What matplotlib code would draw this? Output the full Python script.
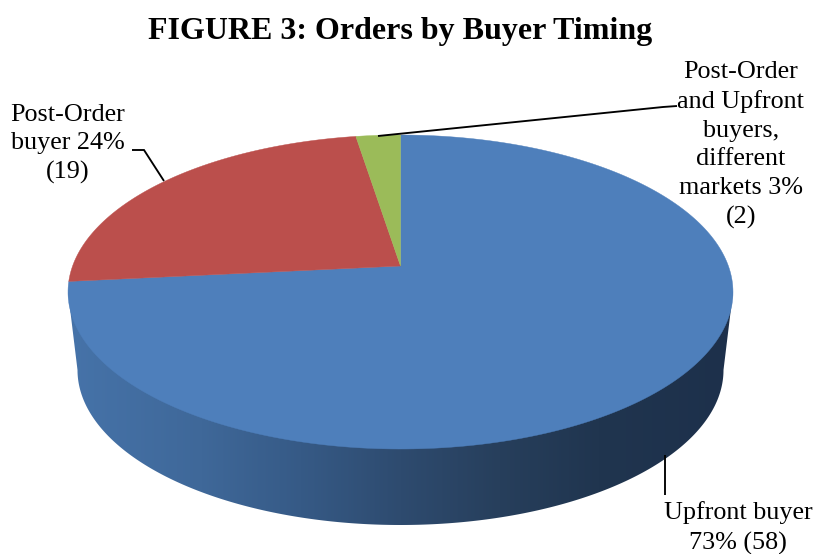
import numpy as np
import matplotlib
matplotlib.use("Agg")
import matplotlib.pyplot as plt
from matplotlib.patches import Polygon
from matplotlib.colors import LinearSegmentedColormap

title = "FIGURE 3: Orders by Buyer Timing"
categories = ["Upfront buyer", "Post-Order buyer", "Post-Order and Upfront buyers, different markets"]
counts = [58, 19, 2]
labels = ["Upfront buyer\n73% (58)", "Post-Order\nbuyer 24%\n(19)",
          "Post-Order\nand Upfront\nbuyers,\ndifferent\nmarkets 3%\n(2)"]
colors = ["#4e7fbb", "#bb4f4c", "#9bbb59"]

W, H = 817, 554
fig = plt.figure(figsize=(W / 100, H / 100), dpi=100, facecolor="white")
ax = fig.add_axes([0, 0, 1, 1])
ax.set_xlim(0, W)
ax.set_ylim(H, 0)
ax.axis("off")
plt.rcParams["font.family"] = "Liberation Serif"

# perspective projection of the unit pie disc
CX, CY = 400.5, 266.0
A, C, D = 152.7, 0.1656, 327.9


def project(theta_deg):
    t = np.radians(theta_deg)
    u, v = np.cos(t), np.sin(t)
    w = 1 + C * v
    return np.column_stack([CX + D * u / w, CY - A * v / w])


# side wall
t = np.linspace(180, 360, 300)
BCX, BCY, BRX, BRY = 400.5, 370.0, 323.0, 155.0
bottom = np.column_stack([BCX + BRX * np.cos(np.radians(t)), BCY - BRY * np.sin(np.radians(t))])
wall = np.vstack([[[68.0, 292.0]], bottom, [[733.0, 292.0]], [[400.5, 292.0]]])
wall_patch = Polygon(wall, closed=True, facecolor="none", edgecolor="none")
ax.add_patch(wall_patch)
cmap = LinearSegmentedColormap.from_list(
    "wall",
    [(0.0, "#4673a9"), (0.2, "#3f6899"), (0.35, "#365a86"), (0.5, "#2e4b6f"),
     (0.65, "#273f5c"), (0.8, "#20354f"), (1.0, "#1d304b")])
im = ax.imshow(np.linspace(0, 1, 256).reshape(1, -1), extent=(68, 733, 530, 280),
               cmap=cmap, aspect="auto", zorder=1)
im.set_clip_path(wall_patch)
ax.set_xlim(0, W)
ax.set_ylim(H, 0)

# top face
start = 90.0
for value, color in zip(counts, colors):
    sweep = 360.0 * value / sum(counts)
    arc = project(np.linspace(start, start - sweep, 240))
    pts = np.vstack([[[CX, CY]], arc])
    ax.add_patch(Polygon(pts, closed=True, facecolor=color, edgecolor=color, lw=0.3, zorder=2))
    start -= sweep

# leader lines
lc = dict(color="black", lw=1.35, zorder=3, solid_capstyle="butt", solid_joinstyle="miter")
ax.plot([378, 663, 677], [136, 107, 106], **lc)
ax.plot([132, 144, 164], [150, 150, 181], **lc)
ax.plot([665.5, 665.5], [455, 495], **lc)

# text
ax.text(400.5, 31, title, fontsize=23.0, fontweight="bold", ha="center", va="center",
        family="Liberation Serif")
tx = dict(fontsize=18.8, ha="center", va="center", family="Liberation Serif", linespacing=1.4, color="black")
ax.text(738, 528, labels[0], **tx)
ax.text(67.5, 144, labels[1], **tx)
ax.text(741, 145, labels[2], **tx)

fig.savefig("out.png", dpi=100, facecolor="white")
